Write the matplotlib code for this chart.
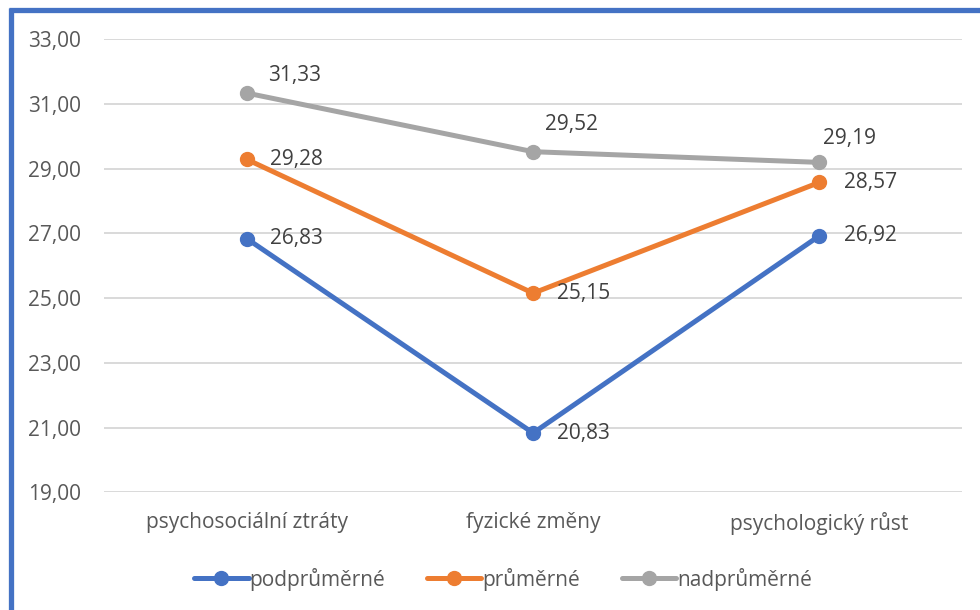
import matplotlib.pyplot as plt
from matplotlib.lines import Line2D

categories = ["psychosociální ztráty", "fyzické změny", "psychologický růst"]
podprumerne = [26.83, 20.83, 26.92]
prumerne = [29.28, 25.15, 28.57]
nadprumerne = [31.33, 29.52, 29.19]
series_names = ["podprůměrné", "průměrné", "nadprůměrné"]
y_ticks = [19, 21, 23, 25, 27, 29, 31, 33]

colors = ["#4472C4", "#ED7D31", "#A5A5A5"]
text_color = "#595959"
# offsets of each value label from its point, in pixels
label_offsets = [
    [(23, 0), (24, 0), (25, 0)],
    [(23, 0), (24, 0), (25, 0)],
    [(21, 18), (12, 27), (4, 24)],
]

plt.rcParams["font.family"] = ["Open Sans", "DejaVu Sans"]

fig = plt.figure(figsize=(9.8, 6.1), dpi=100)
ax = fig.add_axes([0.106, 0.193, 0.876, 0.743])

x = range(len(categories))
for vals, name, col, offs in zip([podprumerne, prumerne, nadprumerne],
                                 series_names, colors, label_offsets):
    ax.plot(x, vals, color=col, lw=3.6, marker="o", markersize=10,
            solid_capstyle="round", label=name, zorder=3)
    for xi, v, (dx, dy) in zip(x, vals, offs):
        ax.annotate(f"{v:.2f}".replace(".", ","), (xi, v), xytext=(dx, dy),
                    textcoords="offset pixels", ha="left", va="center",
                    fontsize=15, color="#404040", zorder=4)

ax.set_xlim(-0.5, 2.5)
ax.set_ylim(19, 33)
ax.set_yticks(y_ticks)
ax.set_yticklabels([f"{t:.2f}".replace(".", ",") for t in y_ticks])
ax.set_xticks(list(x))
ax.set_xticklabels(categories)
ax.tick_params(length=0, labelsize=15, labelcolor=text_color)
ax.tick_params(axis="y", pad=16.5)
ax.tick_params(axis="x", pad=14)
ax.grid(axis="y", color="#D9D9D9", lw=1.4)
ax.set_axisbelow(True)
for s in ax.spines.values():
    s.set_visible(False)

ax.legend(loc="upper center", bbox_to_anchor=(0.465, -0.125), ncol=3,
          frameon=False, fontsize=15, handlelength=2.6, handletextpad=0.05,
          columnspacing=2.0, labelcolor=text_color)

# chart frame, only its top and left edges fall inside the image
fig.add_artist(Line2D([0.0095, 1.0], [0.984, 0.984], color="#4472C4", lw=3.8,
                      transform=fig.transFigure, solid_capstyle="butt"))
fig.add_artist(Line2D([0.011, 0.011], [0.0, 0.987], color="#4472C4", lw=3.8,
                      transform=fig.transFigure, solid_capstyle="butt"))

fig.savefig("out.png", dpi=100)
